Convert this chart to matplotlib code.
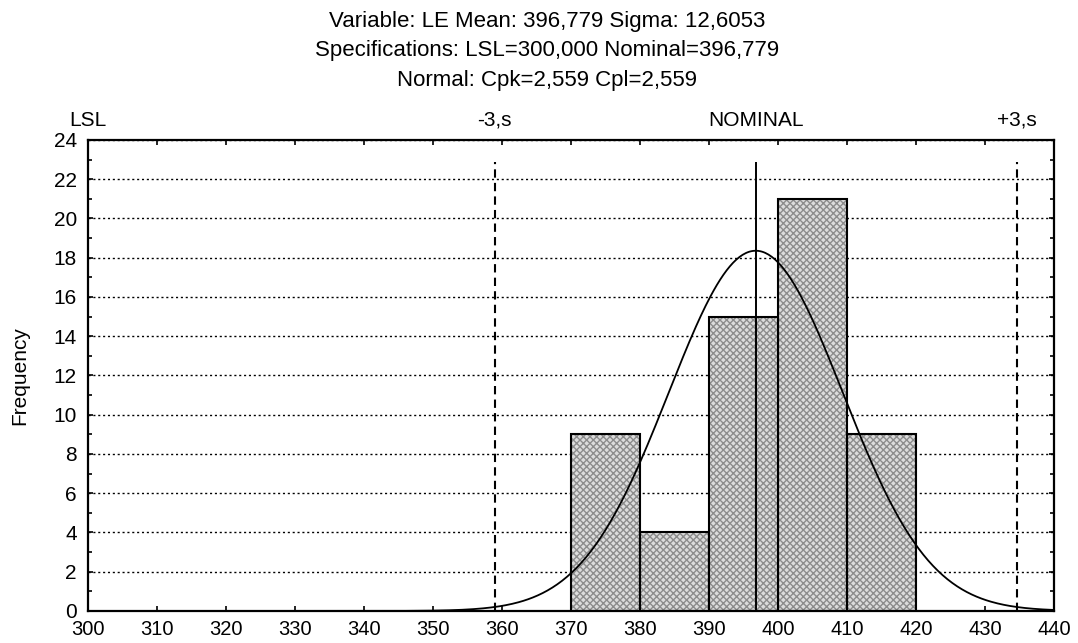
import numpy as np
import matplotlib
matplotlib.use("Agg")
import matplotlib.pyplot as plt
from matplotlib.ticker import MultipleLocator

plt.rcParams['font.family'] = ['Liberation Sans', 'DejaVu Sans']

# Data
bin_left = [370, 380, 390, 400, 410]
counts = [9, 4, 15, 21, 9]
bin_width = 10
mean = 396.779
sigma = 12.6053
lsl = 300.0
title_lines = ["Variable: LE Mean: 396,779 Sigma: 12,6053",
               "Specifications: LSL=300,000 Nominal=396,779",
               "Normal: Cpk=2,559 Cpl=2,559"]
spec_labels = ["LSL", "-3,s", "NOMINAL", "+3,s"]
spec_pos = [lsl, mean - 3 * sigma, mean, mean + 3 * sigma]

fig = plt.figure(figsize=(10.78, 6.43), dpi=100)
ax = fig.add_axes([0.0816, 0.0498, 0.8961, 0.7325])

# hatched fill
ax.bar(bin_left, counts, width=bin_width, align='edge', color='#dcdcdc',
       edgecolor='#8c8c8c', hatch='xxxxx', linewidth=0, zorder=2)
# outline
ax.bar(bin_left, counts, width=bin_width, align='edge', fill=False,
       edgecolor='black', linewidth=1.5, zorder=3)

# normal curve
n = sum(counts)
xs = np.linspace(300, 440, 600)
ys = n * bin_width / (sigma * np.sqrt(2 * np.pi)) * np.exp(-0.5 * ((xs - mean) / sigma) ** 2)
ax.plot(xs, ys, color='black', lw=1.3, zorder=4)

# spec lines
line_top = 22.9
ax.vlines(mean, 0, line_top, color='black', lw=1.4, zorder=5)
ax.vlines([mean - 3 * sigma, mean + 3 * sigma], 0, line_top, color='black',
          lw=1.5, linestyles=(0, (4, 2.5)), zorder=5)

ax.set_xlim(300, 440)
ax.set_ylim(0, 24)
ax.xaxis.set_major_locator(MultipleLocator(10))
ax.yaxis.set_major_locator(MultipleLocator(2))
ax.yaxis.set_minor_locator(MultipleLocator(1))
ax.tick_params(which='both', direction='in', top=True, right=True,
               labelsize=15, width=1.2, colors='black')
ax.tick_params(which='major', length=3.5)
ax.tick_params(which='minor', length=3)
ax.tick_params(axis='x', pad=6.5, labelsize=14.5)
ax.tick_params(axis='y', pad=8)
ax.grid(axis='y', which='major', linestyle=(0, (1.5, 2)), color='black', lw=1.0, zorder=1)
ax.set_axisbelow(True)
for s in ax.spines.values():
    s.set_linewidth(1.6)
ax.set_ylabel("Frequency", fontsize=15, va='center')
ax.yaxis.set_label_coords(-0.0709, 0.5)

for lab, p in zip(spec_labels, spec_pos):
    ax.text(p, 24.72, lab, ha='center', va='baseline', fontsize=15)

ys_t = [0.9585, 0.9125, 0.8665]
for t, y in zip(title_lines, ys_t):
    fig.text(0.5074, y, t, ha='center', va='baseline', fontsize=16)

fig.savefig("out.png", dpi=100)
